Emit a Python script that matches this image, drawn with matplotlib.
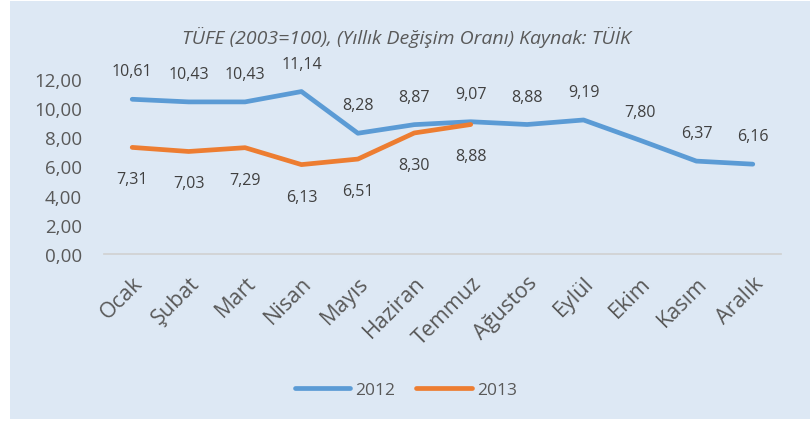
import matplotlib.pyplot as plt
from matplotlib.patches import Rectangle

months = ["Ocak", "Şubat", "Mart", "Nisan", "Mayıs", "Haziran", "Temmuz",
          "Ağustos", "Eylül", "Ekim", "Kasım", "Aralık"]
y2012 = [10.61, 10.43, 10.43, 11.14, 8.28, 8.87, 9.07, 8.88, 9.19, 7.80, 6.37, 6.16]
y2013 = [7.31, 7.03, 7.29, 6.13, 6.51, 8.30, 8.88]
yticks = [0, 2, 4, 6, 8, 10, 12]

plt.rcParams["font.family"] = ["Open Sans", "DejaVu Sans"]
txt = "#595959"
bg = "#DDE8F4"

fig = plt.figure(figsize=(8.12, 4.27), dpi=100)
fig.patch.set_facecolor("white")
fig.patches.append(Rectangle((10/812, 7/427), 800/812, 418/427, transform=fig.transFigure,
                             facecolor=bg, edgecolor="none", zorder=-10))

ax = fig.add_axes([104/812, 1-255/427, 677/812, 175/427])
ax.set_facecolor("none")

x = list(range(len(months)))
ax.plot(x, y2012, color="#5B9BD5", lw=3.4, solid_capstyle="round", label="2012")
ax.plot(x[:len(y2013)], y2013, color="#ED7D31", lw=3.4, solid_capstyle="round", label="2013")

def fmt(v):
    return f"{v:.2f}".replace(".", ",")

for i, v in enumerate(y2012):
    ax.annotate(fmt(v), (i, v), xytext=(0, 20), textcoords="offset points",
                ha="center", va="center", fontsize=11.5, color="#404040")
for i, v in enumerate(y2013):
    ax.annotate(fmt(v), (i, v), xytext=(0, -23), textcoords="offset points",
                ha="center", va="center", fontsize=11.5, color="#404040")

ax.set_xlim(-0.5, len(months) - 0.5)
ax.set_ylim(0, 12)
ax.set_yticks(yticks)
ax.set_yticklabels([fmt(t) for t in yticks], fontsize=13.5, color=txt)
ax.set_xticks(x)
ax.set_xticklabels(months, rotation=45, ha="right", rotation_mode="anchor",
                   fontsize=15.5, color=txt)
ax.tick_params(length=0)
ax.tick_params(axis="x", pad=13)
ax.tick_params(axis="y", pad=16)
for s in ["top", "right", "left"]:
    ax.spines[s].set_visible(False)
ax.spines["bottom"].set_color("#D0D0D0")
ax.spines["bottom"].set_linewidth(1.2)

fig.text(0.5, 1-37/427, "TÜFE (2003=100), (Yıllık Değişim Oranı) Kaynak: TÜİK",
         ha="center", va="center", fontsize=14, style="italic", color=txt)

fig.legend(loc="center", bbox_to_anchor=(0.5, 1-391/427), ncol=2, frameon=False,
           fontsize=12.5, labelcolor=txt, handlelength=3.2, columnspacing=1.2, handletextpad=0.3)

plt.savefig("out.png", dpi=100)
